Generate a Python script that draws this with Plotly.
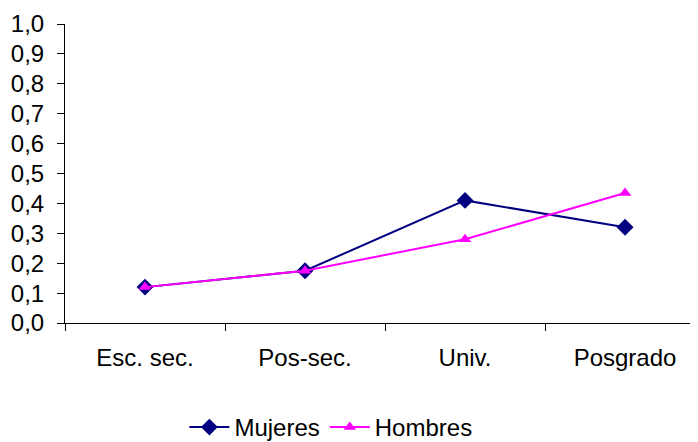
import plotly.graph_objects as go

categories = ["Esc. sec.", "Pos-sec.", "Univ.", "Posgrado"]
mujeres = [0.12, 0.175, 0.41, 0.32]
hombres = [0.12, 0.175, 0.28, 0.435]
y_ticks = [0.0, 0.1, 0.2, 0.3, 0.4, 0.5, 0.6, 0.7, 0.8, 0.9, 1.0]

FONT = "Liberation Sans, Arial, sans-serif"

fig = go.Figure()
fig.add_trace(go.Scatter(
    x=categories, y=mujeres, name="Mujeres", mode="lines+markers",
    line=dict(color="#000080", width=2),
    marker=dict(symbol="diamond", size=13, color="#000080"),
))
fig.add_trace(go.Scatter(
    x=categories, y=hombres, name="Hombres", mode="lines+markers",
    line=dict(color="#FF00FF", width=2),
    marker=dict(symbol="triangle-up", size=11, color="#FF00FF"),
))

# the page body has an 8px margin, so the figure is offset by 8px
fig.update_layout(
    width=690, height=442,
    margin=dict(l=57, r=0, t=16, b=127, autoexpand=False),
    paper_bgcolor="white", plot_bgcolor="white",
    separators=",.",
    font=dict(family=FONT, size=24, color="black"),
    showlegend=True,
    legend=dict(
        orientation="h", x=0.468, xanchor="center", xref="container",
        y=0, yanchor="bottom", yref="container",
        font=dict(family=FONT, size=24, color="black"),
        itemwidth=40, tracegroupgap=0,
    ),
)
fig.update_xaxes(
    type="category", range=[-0.5, 3.456], automargin=False,
    showline=True, linecolor="black", linewidth=1,
    ticks="outside", ticklen=7, tickcolor="black", tickson="boundaries",
    showgrid=False, zeroline=False,
    ticklabelstandoff=13,
)
fig.update_yaxes(
    range=[0, 1.0], tickvals=y_ticks, tickformat=".1f", automargin=False,
    showline=True, linecolor="black", linewidth=1,
    ticks="outside", ticklen=7, tickcolor="black",
    showgrid=False, zeroline=False,
    ticklabelstandoff=8,
)

fig.write_html("out.html")
